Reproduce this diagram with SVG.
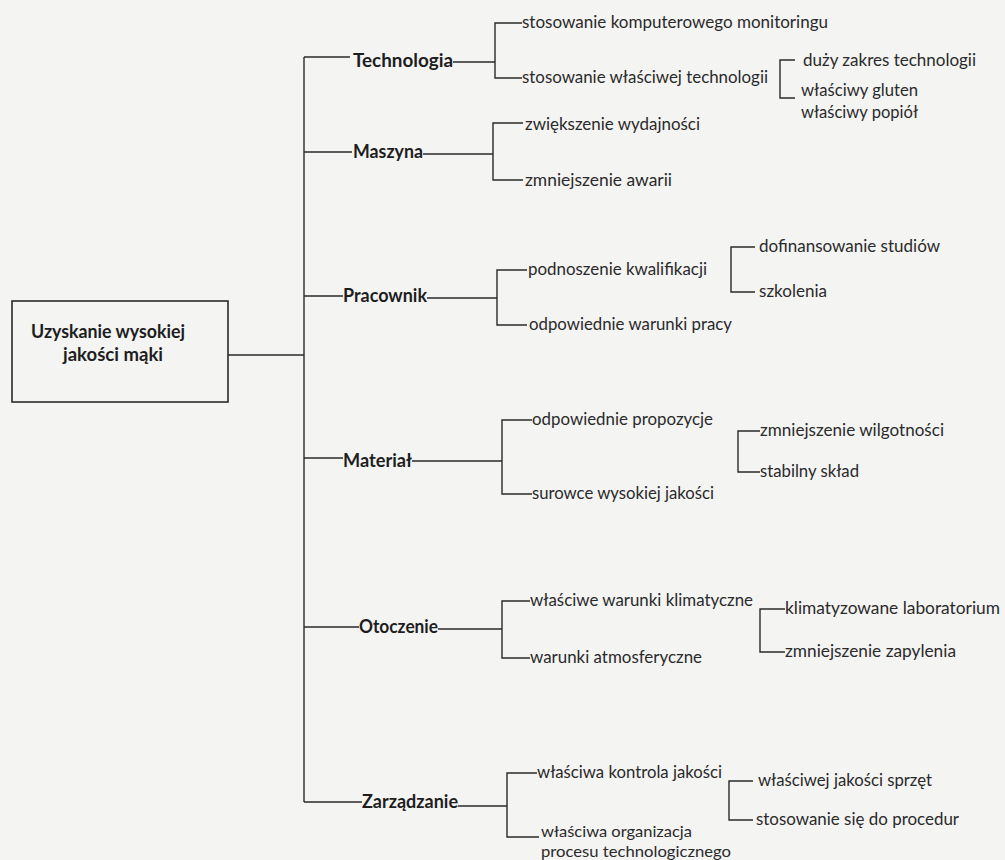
<svg xmlns="http://www.w3.org/2000/svg" width="1005" height="860" viewBox="0 0 1005 860">
<style>
.bg{fill:#f4f4f3}
.ln{stroke:#2a2a2a;stroke-width:1.4;fill:none}
.box{fill:none;stroke:#2a2a2a;stroke-width:1.6}
.b{font-family:Lato,"Open Sans","Liberation Sans",sans-serif;font-weight:bold;font-size:18px;fill:#1e1e1e}
.t{font-family:Lato,"Open Sans","Liberation Sans",sans-serif;font-size:17px;fill:#2a2a2a}
.s{font-size:16px}
</style>
<rect class="bg" x="0" y="0" width="1005" height="860"/>

<g id="connectors">
  <line class="ln" x1="228" y1="355" x2="304" y2="355"/>
  <line class="ln" x1="304" y1="57" x2="304" y2="802"/>
  <!-- main branches -->
  <line class="ln" x1="304" y1="57" x2="350" y2="57"/>
  <line class="ln" x1="304" y1="152" x2="352" y2="152"/>
  <line class="ln" x1="304" y1="296" x2="343" y2="296"/>
  <line class="ln" x1="304" y1="458" x2="343" y2="458"/>
  <line class="ln" x1="304" y1="627" x2="359" y2="627"/>
  <line class="ln" x1="304" y1="802" x2="362" y2="802"/>
  <!-- Technologia -->
  <line class="ln" x1="453" y1="62" x2="495" y2="62"/>
  <path class="ln" d="M522,23 H495 V78 H522"/>
  <path class="ln" d="M795,60 H780 V98 H795"/>
  <!-- Maszyna -->
  <line class="ln" x1="423" y1="154" x2="493" y2="154"/>
  <path class="ln" d="M523,123 H493 V180 H523"/>
  <!-- Pracownik -->
  <line class="ln" x1="427" y1="298" x2="497" y2="298"/>
  <path class="ln" d="M527,270 H497 V325 H527"/>
  <path class="ln" d="M755,247 H731 V292 H755"/>
  <!-- Materiał -->
  <line class="ln" x1="412" y1="461" x2="502" y2="461"/>
  <path class="ln" d="M532,420 H502 V494 H532"/>
  <path class="ln" d="M760,431 H738 V472 H760"/>
  <!-- Otoczenie -->
  <line class="ln" x1="438" y1="629" x2="502" y2="629"/>
  <path class="ln" d="M530,601 H502 V658 H530"/>
  <path class="ln" d="M785,609 H760 V652 H785"/>
  <!-- Zarządzanie -->
  <line class="ln" x1="458" y1="806" x2="507" y2="806"/>
  <path class="ln" d="M537,773 H507 V837 H539"/>
  <path class="ln" d="M753,781 H729 V820 H753"/>
</g>

<g id="root">
  <rect class="box" x="12" y="301" width="216" height="101"/>
  <text class="b" x="31" y="338" textLength="154" lengthAdjust="spacingAndGlyphs">Uzyskanie wysokiej</text>
  <text class="b" x="63" y="361" textLength="100" lengthAdjust="spacingAndGlyphs">jakości mąki</text>
</g>

<g id="technologia">
  <text class="b" x="353" y="67" textLength="100" lengthAdjust="spacingAndGlyphs">Technologia</text>
  <text class="t" x="522" y="28" textLength="306" lengthAdjust="spacingAndGlyphs">stosowanie komputerowego monitoringu</text>
  <text class="t" x="522" y="83" textLength="246" lengthAdjust="spacingAndGlyphs">stosowanie właściwej technologii</text>
  <text class="t" x="803" y="66" textLength="173" lengthAdjust="spacingAndGlyphs">duży zakres technologii</text>
  <text class="t" x="801" y="96" textLength="117" lengthAdjust="spacingAndGlyphs">właściwy gluten</text>
  <text class="t" x="801" y="118" textLength="117" lengthAdjust="spacingAndGlyphs">właściwy popiół</text>
</g>

<g id="maszyna">
  <text class="b" x="353" y="158" textLength="70" lengthAdjust="spacingAndGlyphs">Maszyna</text>
  <text class="t" x="525" y="130" textLength="175" lengthAdjust="spacingAndGlyphs">zwiększenie wydajności</text>
  <text class="t" x="525" y="186" textLength="147" lengthAdjust="spacingAndGlyphs">zmniejszenie awarii</text>
</g>

<g id="pracownik">
  <text class="b" x="343" y="302" textLength="84" lengthAdjust="spacingAndGlyphs">Pracownik</text>
  <text class="t" x="528" y="275" textLength="179" lengthAdjust="spacingAndGlyphs">podnoszenie kwalifikacji</text>
  <text class="t" x="529" y="330" textLength="203" lengthAdjust="spacingAndGlyphs">odpowiednie warunki pracy</text>
  <text class="t" x="759" y="252" textLength="181" lengthAdjust="spacingAndGlyphs">dofinansowanie studiów</text>
  <text class="t" x="759" y="297" textLength="68" lengthAdjust="spacingAndGlyphs">szkolenia</text>
</g>

<g id="material">
  <text class="b" x="343" y="467" textLength="69" lengthAdjust="spacingAndGlyphs">Materiał</text>
  <text class="t" x="532" y="425" textLength="181" lengthAdjust="spacingAndGlyphs">odpowiednie propozycje</text>
  <text class="t" x="532" y="499" textLength="182" lengthAdjust="spacingAndGlyphs">surowce wysokiej jakości</text>
  <text class="t" x="760" y="436" textLength="184" lengthAdjust="spacingAndGlyphs">zmniejszenie wilgotności</text>
  <text class="t" x="760" y="477" textLength="99" lengthAdjust="spacingAndGlyphs">stabilny skład</text>
</g>

<g id="otoczenie">
  <text class="b" x="359" y="633" textLength="79" lengthAdjust="spacingAndGlyphs">Otoczenie</text>
  <text class="t" x="530" y="606" textLength="223" lengthAdjust="spacingAndGlyphs">właściwe warunki klimatyczne</text>
  <text class="t" x="530" y="663" textLength="172" lengthAdjust="spacingAndGlyphs">warunki atmosferyczne</text>
  <text class="t" x="785" y="614" textLength="215" lengthAdjust="spacingAndGlyphs">klimatyzowane laboratorium</text>
  <text class="t" x="785" y="657" textLength="171" lengthAdjust="spacingAndGlyphs">zmniejszenie zapylenia</text>
</g>

<g id="zarzadzanie">
  <text class="b" x="362" y="808" textLength="96" lengthAdjust="spacingAndGlyphs">Zarządzanie</text>
  <text class="t" x="537" y="778" textLength="185" lengthAdjust="spacingAndGlyphs">właściwa kontrola jakości</text>
  <text class="t s" x="541" y="837" textLength="151" lengthAdjust="spacingAndGlyphs">właściwa organizacja</text>
  <text class="t s" x="541" y="857" textLength="190" lengthAdjust="spacingAndGlyphs">procesu technologicznego</text>
  <text class="t" x="758" y="786" textLength="174" lengthAdjust="spacingAndGlyphs">właściwej jakości sprzęt</text>
  <text class="t" x="756" y="825" textLength="203" lengthAdjust="spacingAndGlyphs">stosowanie się do procedur</text>
</g>
</svg>
